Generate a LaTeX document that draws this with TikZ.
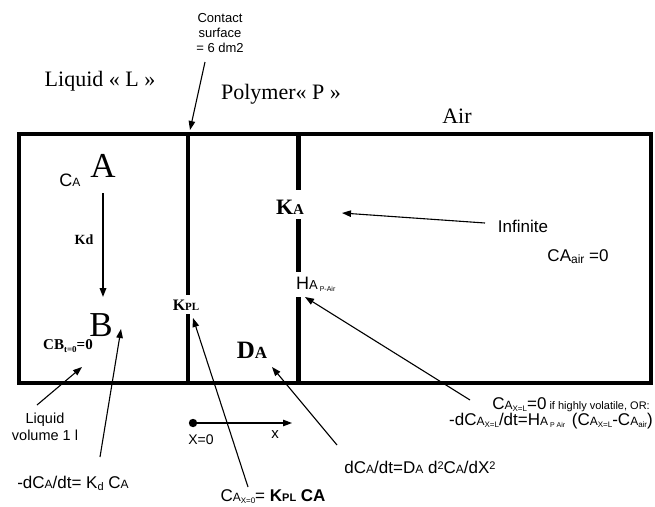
\documentclass[tikz,border=0pt]{standalone}
\usepackage{fontspec}
\setmainfont{Liberation Serif}
\setsansfont{Liberation Sans}
\usetikzlibrary{arrows.meta}
% size switch and lowered / raised small text
\newcommand{\sz}[2]{{\fontsize{#1}{#1}\selectfont #2}}
\newcommand{\lo}[2]{\raisebox{-0.35ex}{\fontsize{#1}{#1}\selectfont #2}}
\newcommand{\hi}[2]{\raisebox{0.75ex}{\fontsize{#1}{#1}\selectfont #2}}
\begin{document}
\begin{tikzpicture}[x=1pt,y=-1pt,
  frame/.style={line width=4pt},
  wall/.style={line width=3.5pt},
  thickwall/.style={line width=5pt},
  pointer/.style={line width=1.1pt,-{Triangle[length=9pt,width=6.5pt]}},
  phase/.style={font=\fontsize{22}{24}\selectfont\rmfamily,inner sep=0pt},
  species/.style={font=\fontsize{35}{36}\selectfont\rmfamily,inner sep=0pt},
  bold/.style={font=\rmfamily\bfseries,inner sep=0pt},
  note/.style={font=\sffamily,inner sep=0pt}]
\useasboundingbox (0,0) rectangle (655,506);

% compartments
\coordinate (tl) at (19,134);
\coordinate (br) at (651,383);
\draw[frame] (tl) rectangle (br);
\coordinate (w1a) at (188,134);
\coordinate (w1b) at (188,295);
\coordinate (w1c) at (188,314);
\coordinate (w1d) at (188,383);
\draw[wall] (w1a) -- (w1b) (w1c) -- (w1d);
\coordinate (w2a) at (298,134);
\coordinate (w2b) at (298,190);
\coordinate (w2c) at (298,219);
\coordinate (w2d) at (298,272);
\coordinate (w2e) at (298,297);
\coordinate (w2f) at (298,383);
\draw[thickwall] (w2a) -- (w2b) (w2c) -- (w2d) (w2e) -- (w2f);

% phase names
\node[phase] (liq) at (100,81) {Liquid « L »};
\node[phase] (poly) at (281,94) {Polymer« P »};
\node[phase] (air) at (457,116) {Air};

% contact surface
\node[note,align=center,font=\sffamily\fontsize{13}{15}\selectfont] (contact) at (220,33) {Contact\\surface\\= 6 dm2};
\coordinate (contactTail) at (205,62);
\coordinate (contactTip) at (190,130);
\draw[pointer] (contactTail) -- (contactTip);

% liquid side
\node[note] (ca) at (70,180) {\sz{18}{C}\sz{12}{A}};
\node[species] (spA) at (103,166) {A};
\node[species] (spB) at (101,325) {B};
\coordinate (kdTop) at (103,193);
\coordinate (kdTip) at (103,297);
\draw[pointer,line width=1.8pt] (kdTop) -- (kdTip);
\node[bold,font=\rmfamily\bfseries\fontsize{14}{14}\selectfont] (kd) at (84,240) {Kd};
\node[bold,font=\rmfamily\bfseries\fontsize{15}{15}\selectfont] (cb) at (68,346) {CB\lo{9}{t=0}=0};

\node[note,align=center,font=\sffamily\fontsize{14.5}{17}\selectfont] (vol) at (45,427) {Liquid\\volume 1 l};
\coordinate (volTail) at (37,405);
\coordinate (volTip) at (82,367);
\draw[pointer] (volTail) -- (volTip);

\node[note] (rateL) at (73,483) {\sz{17}{-dC}\sz{12}{A}\sz{17}{/dt= K}\lo{11}{d}\sz{17}{ C}\sz{12}{A}};
\coordinate (rateTail) at (100,457);
\coordinate (rateTip) at (121,329);
\draw[pointer] (rateTail) -- (rateTip);

% liquid / polymer interface
\node[bold,font=\rmfamily\bfseries\fontsize{16}{16}\selectfont] (kpl) at (186,305) {K\sz{11}{PL}};
\node[note] (partition) at (273,497) {\sz{17}{C}\sz{12}{A}\lo{8}{X=0}\sz{17}{= }\textbf{\sz{17}{K}\sz{11}{PL}\sz{17}{ CA}}};
\coordinate (kplTail) at (248,487);
\coordinate (kplTip) at (193,318);
\draw[pointer] (kplTail) -- (kplTip);

% x axis
\coordinate (origin) at (193,423);
\coordinate (xEnd) at (292,423);
\fill (origin) circle (4.2pt);
\draw[pointer] (origin) -- (xEnd);
\node[note,font=\sffamily\fontsize{14}{14}\selectfont] (x0) at (201,440) {X=0};
\node[note,font=\sffamily\fontsize{15}{15}\selectfont] (xl) at (275,435) {x};

% polymer
\node[bold,font=\rmfamily\bfseries\fontsize{25}{25}\selectfont] (da) at (252,350) {D\sz{17}{A}};
\node[note] (fick) at (420,467) {\sz{17}{dC}\sz{12}{A}\sz{17}{/dt=D}\sz{12}{A}\sz{17}{ d}\hi{11}{2}\sz{17}{C}\sz{12}{A}\sz{17}{/dX}\hi{11}{2}};
\coordinate (fickTail) at (337,445);
\coordinate (fickTip) at (272,367);
\draw[pointer] (fickTail) -- (fickTip);

% polymer / air interface
\node[bold,font=\rmfamily\bfseries\fontsize{22}{22}\selectfont] (ka) at (290,207) {K\sz{15}{A}};
\node[note,anchor=west] (ha) at (296,284) {\sz{18}{H}\sz{13}{A}\lo{7}{ P-Air}};
\node[note,font=\sffamily\fontsize{17}{17}\selectfont] (inf) at (523,226) {Infinite};
\coordinate (infTail) at (485,223);
\coordinate (infTip) at (342,213);
\draw[pointer] (infTail) -- (infTip);
\node[note] (caair) at (578,257) {\sz{17}{CA}\lo{12}{air}\sz{17}{ =0}};

\node[note,anchor=east] (bc1) at (650,405) {\sz{17}{C}\sz{12}{A}\lo{8}{X=L}\sz{17}{=0}\sz{11}{ if highly volatile, OR:}};
\node[note,anchor=east] (bc2) at (653,421) {\sz{17}{-dC}\sz{12}{A}\lo{8}{X=L}\sz{17}{/dt=H}\sz{12}{A}\lo{7}{ P Air }\sz{17}{ (C}\sz{12}{A}\lo{8}{X=L}\sz{17}{-C}\sz{12}{A}\lo{8}{air}\sz{17}{)}};
\coordinate (haTail) at (470,400);
\coordinate (haTip) at (305,297);
\draw[pointer] (haTail) -- (haTip);
\end{tikzpicture}
\end{document}
